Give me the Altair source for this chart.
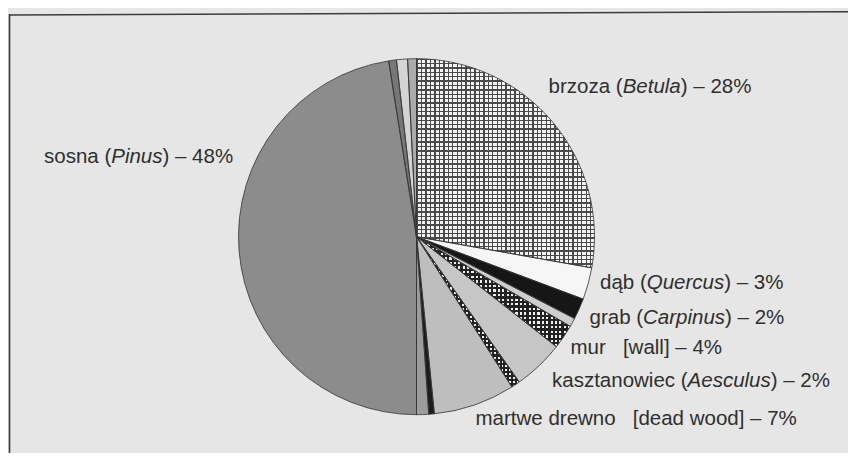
import altair as alt
import pandas as pd

# ---------------- data (clockwise from 12 o'clock) ----------------
categories = ["brzoza", "dąb", "grab", "inne A", "kasztanowiec", "mur", "inne B",
              "martwe drewno", "inne C", "inne D", "sosna", "inne E", "inne F", "inne G"]
values = [27.8, 2.9, 1.9, 0.8, 2.2, 4.6, 0.8, 7.4, 0.5, 1.1, 47.5, 0.7, 1.0, 0.8]

label_pre = ["brzoza (", "sosna (", "dąb (", "grab (",
             "mur\u00a0\u00a0\u00a0[wall] – 4%", "kasztanowiec (",
             "martwe drewno\u00a0\u00a0\u00a0[dead wood] – 7%"]
label_ital = ["Betula", "Pinus", "Quercus", "Carpinus", "", "Aesculus", ""]
label_post = [") – 28%", ") – 48%", ") – 3%", ") – 2%", "", ") – 2%", ""]

# ---------------- styles / layout ----------------
fills = ["#f4f4f4", "#f6f6f6", "#161616", "#cdcdcd", "#f0f0f0", "#c6c6c6", "#f0f0f0",
         "#bebebe", "#1c1c1c", "#9c9c9c", "#8c8c8c", "#777777", "#d4d4d4", "#ababab"]
# hatch overlays: category -> (stripes along x, stripes along y, line fraction, line colour)
hatches = {
    "brzoza": (40, 48, 0.3, "#4a4a4a"),
    "kasztanowiec": (35, 24, 0.5, "#222222"),
    "inne B": (26, 37, 0.5, "#222222"),
}
FONT = "Liberation Sans"
FS = 20.5
TXT = "#2f2f2f"
PAPER = "#e6e6e6"
R = 178

W_VIEW, H_VIEW, PAD_TOP = 817, 425.4, 16
OX, OY = 8, 8 + PAD_TOP  # page offset of the view

# label anchors in page pixels (left edge, baseline)
anchor_x = [548.6, 44.0, 600.0, 589.5, 570.5, 552.0, 475.5]
anchor_y = [93.3, 162.5, 288.5, 323.5, 354.0, 386.7, 425.0]

ADV = {' ': 278, '\u00a0': 278, '(': 333, ')': 333, '[': 278, ']': 278, '–': 556, '%': 889,
       'a': 556, 'ą': 556, 'b': 556, 'c': 500, 'd': 556, 'e': 556, 'f': 278, 'g': 556,
       'h': 556, 'i': 222, 'j': 222, 'k': 500, 'l': 222, 'm': 833, 'n': 556, 'o': 556,
       'p': 556, 'q': 556, 'r': 333, 's': 500, 't': 278, 'u': 556, 'v': 500, 'w': 722,
       'x': 500, 'y': 500, 'z': 500, 'A': 667, 'B': 667, 'C': 722, 'P': 667, 'Q': 778}


def text_width(s):
    return sum(ADV.get(ch, 556) for ch in s) * FS / 1000.0


rows = []
for i in range(len(label_pre)):
    x = anchor_x[i] - OX
    y = anchor_y[i] - OY
    for part, style in ((label_pre[i], "normal"), (label_ital[i], "italic"), (label_post[i], "normal")):
        if part:
            rows.append({"txt": part, "px": x, "py": y, "style": style})
        x += text_width(part)
labels = pd.DataFrame(rows)

df = pd.DataFrame({"category": categories, "value": values, "order": list(range(len(values)))})
total = float(sum(values))
theta_scale = alt.Scale(domain=[0, total])


def stripes(n, frac, color, vertical):
    stops = []
    clear = "rgba(255,255,255,0)"
    for i in range(n):
        a, b, c = i / n, (i + frac) / n, (i + 1) / n
        stops += [{"offset": a, "color": color}, {"offset": b, "color": color},
                  {"offset": b, "color": clear}, {"offset": c, "color": clear}]
    return {"gradient": "linear", "stops": stops, "x1": 0, "y1": 0,
            "x2": 1 if vertical else 0, "y2": 0 if vertical else 1}


def wedges():
    return (alt.Chart(df)
            .transform_window(cum="sum(value)", sort=[alt.SortField("order", order="ascending")],
                              frame=[None, 0])
            .transform_calculate(start="datum.cum - datum.value"))


enc = dict(theta=alt.Theta("start:Q", scale=theta_scale), theta2="cum:Q")

base = wedges().mark_arc(radius=R).encode(
    color=alt.Color("category:N", scale=alt.Scale(domain=categories, range=fills), legend=None),
    **enc)

overlays = []
for cat, (nx, ny, frac, col) in hatches.items():
    for n, vertical in ((nx, True), (ny, False)):
        overlays.append(
            wedges().transform_filter(alt.datum.category == cat)
            .mark_arc(radius=R, fill=stripes(n, frac, col, vertical)).encode(**enc))

outline = wedges().mark_arc(radius=R, fill="white", fillOpacity=0, stroke="#333333",
                            strokeWidth=0.8).encode(**enc)

frame_df = pd.DataFrame({"k": [0]})
left_rule = alt.Chart(frame_df).mark_rule(color="#3c3c3c", strokeWidth=1.6).encode(
    x=alt.value(1.5), y=alt.value(-10), y2=alt.value(H_VIEW + 8))
top_rule = alt.Chart(frame_df).mark_rule(color="#3c3c3c", strokeWidth=1.6).encode(
    x=alt.value(1.5), x2=alt.value(840), y=alt.value(-9), y2=alt.value(-12.3))

txt_norm = alt.Chart(labels).transform_filter(alt.datum.style == "normal").mark_text(
    align="left", baseline="alphabetic", font=FONT, fontSize=FS, color=TXT).encode(
    x=alt.X("px:Q", scale=None), y=alt.Y("py:Q", scale=None), text="txt:N")
txt_ital = alt.Chart(labels).transform_filter(alt.datum.style == "italic").mark_text(
    align="left", baseline="alphabetic", font=FONT, fontSize=FS, fontStyle="italic", color=TXT).encode(
    x=alt.X("px:Q", scale=None), y=alt.Y("py:Q", scale=None), text="txt:N")

chart = (alt.layer(left_rule, top_rule, base, *overlays, outline, txt_norm, txt_ital)
         .resolve_scale(theta="shared")
         .properties(width=W_VIEW, height=H_VIEW, autosize="none",
                     padding={"left": 0, "top": PAD_TOP, "right": 840 - W_VIEW,
                              "bottom": 445 - PAD_TOP - H_VIEW},
                     background=PAPER)
         .configure_view(strokeWidth=0))

chart.save("out.html", embed_options={"renderer": "svg", "actions": False})
